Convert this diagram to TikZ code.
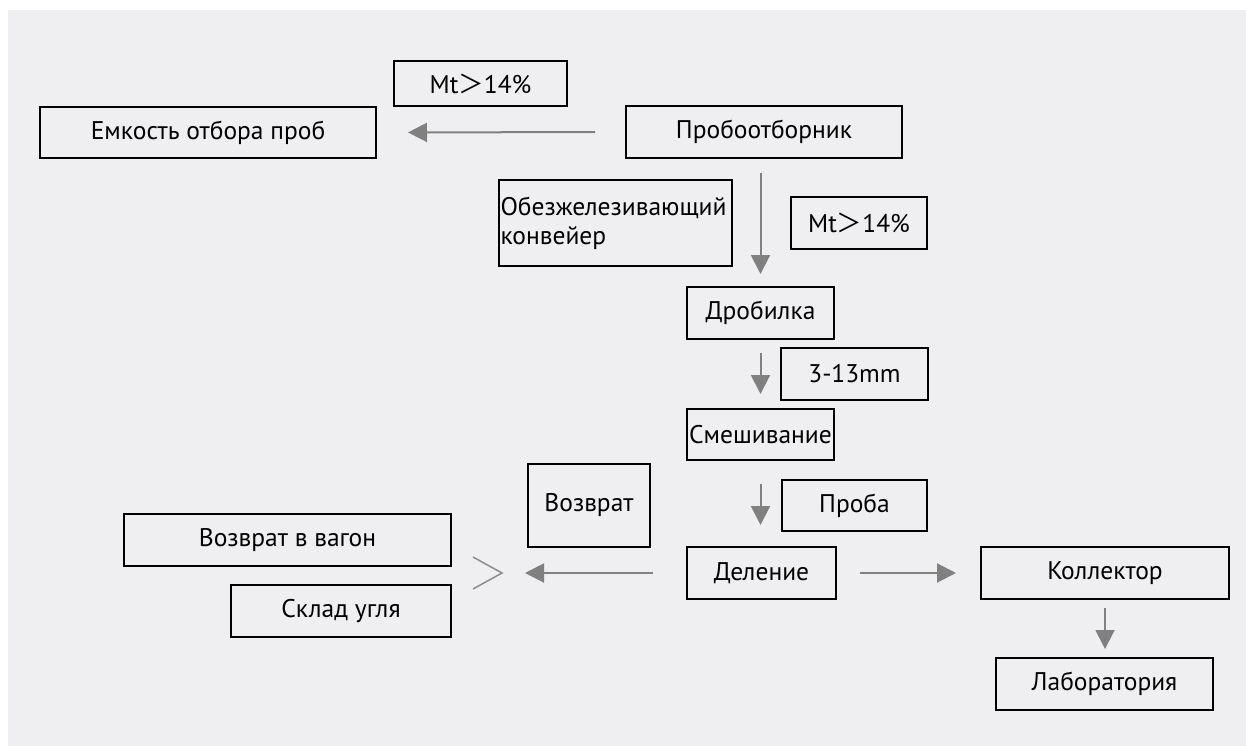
\documentclass[tikz,border=0pt]{standalone}
\usepackage{fontspec}
\setmainfont{PT Sans}
\newfontfamily\cjk{Noto Sans CJK SC}
\usetikzlibrary{arrows.meta}
\definecolor{bg}{RGB}{239,239,241}
\definecolor{arrgray}{RGB}{128,128,128}
\definecolor{gtgray}{RGB}{140,140,140}
\tikzset{
  box/.style={draw=black, line width=2pt, inner sep=0pt, font=\fontsize{25.5}{29}\selectfont, align=center},
  arr/.style={draw=arrgray, line width=2pt, -{Triangle[length=19pt,width=19pt]}, arrgray},
}
\begin{document}
\begin{tikzpicture}[x=1pt,y=-1pt]
\useasboundingbox (0,0) rectangle (1246,746);
\fill[bg] (8,10) rectangle (1246,746);

\node[box, minimum width=173pt, minimum height=45pt] (mt1) at (480.5,84) {Mt{\cjk ＞}14\%};
\node[box, minimum width=336pt, minimum height=51pt] (emk) at (208,132.5) {Емкость отбора проб};
\node[box, minimum width=276pt, minimum height=52pt] (probe) at (764,132) {Пробоотборник};
\node[box, minimum width=233pt, minimum height=86pt, align=left, text width=230pt] (obez) at (615.5,223) {Обезжелезивающий\\конвейер};
\node[box, minimum width=136pt, minimum height=52pt] (mt2) at (859,223) {Mt{\cjk ＞}14\%};
\node[box, minimum width=147pt, minimum height=52pt] (drob) at (760.5,313) {Дробилка};
\node[box, minimum width=147pt, minimum height=52pt] (mm) at (854.5,374) {3-13mm};
\node[box, minimum width=147pt, minimum height=51pt] (smesh) at (760.5,434.5) {Смешивание};
\node[box, minimum width=145pt, minimum height=51pt] (proba) at (854.5,505.5) {Проба};
\node[box, minimum width=122pt, minimum height=83pt] (vozv) at (589,505.5) {Возврат};
\node[box, minimum width=149pt, minimum height=52pt] (delen) at (761.5,573) {Деление};
\node[box, minimum width=327pt, minimum height=52pt] (vvag) at (287.5,540) {Возврат в вагон};
\node[box, minimum width=220pt, minimum height=52pt] (sklad) at (341,611) {Склад угля};
\node[box, minimum width=248pt, minimum height=52pt] (koll) at (1105,573) {Коллектор};
\node[box, minimum width=217pt, minimum height=52pt] (lab) at (1104.5,684) {Лаборатория};

\coordinate (gtip) at (525,573);
\draw[gtgray, line width=1.5pt] (473,557) -- (502,573) -- (473,589);

\draw[arr, shorten <=30pt, shorten >=31pt] (probe.west) -- (emk.east);
\draw[arr, shorten <=14pt, shorten >=12pt] (probe.south -| drob.north) -- (drob.north);
\draw[arr, shorten <=13pt, shorten >=14pt] (drob.south) -- (smesh.north);
\draw[arr, shorten <=23pt, shorten >=21pt] (smesh.south) -- (smesh.south |- delen.north);
\draw[arr, shorten <=33pt] (delen.west) -- (gtip);
\draw[arr, shorten <=23pt, shorten >=24pt] (delen.east) -- (koll.west);
\draw[arr, shorten <=8pt, shorten >=8pt] (koll.south) -- (koll.south |- lab.north);
\end{tikzpicture}
\end{document}
